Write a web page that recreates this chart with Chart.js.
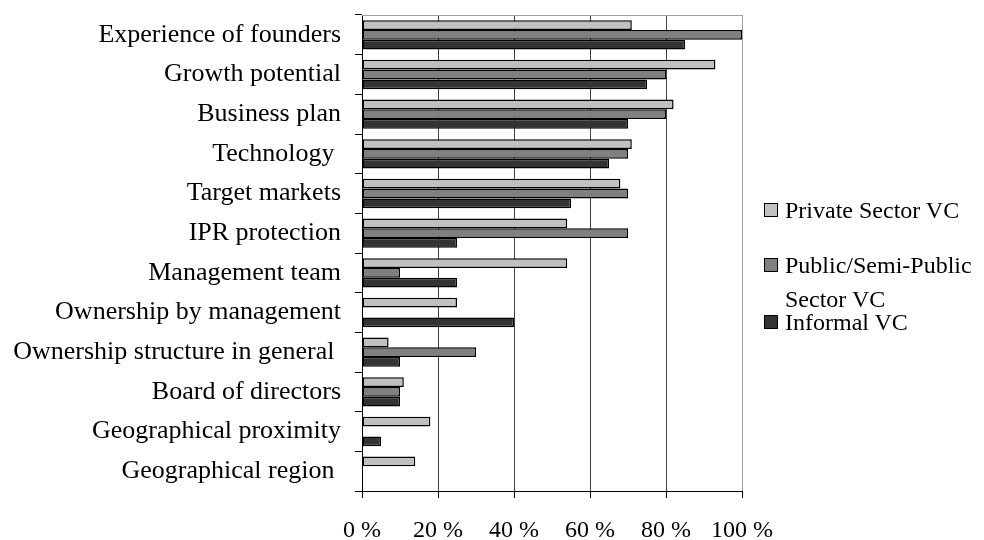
<!DOCTYPE html>
<html>
<head>
<meta charset="utf-8">
<script src="https://cdn.jsdelivr.net/npm/chart.js@4/dist/chart.umd.min.js"></script>
<style>
  html, body { margin: 0; padding: 0; background: #fff; }
  #wrap { position: relative; width: 984px; height: 540px; }
  #legend { position: absolute; left: 0; top: 0; font-family: "Liberation Serif", "Times New Roman", serif; font-size: 24px; color: #000; }
  .lg-box { position: absolute; width: 12px; height: 12px; border: 1px solid #000; }
  .lg-text { position: absolute; width: 195px; line-height: 34px; white-space: normal; }
</style>
</head>
<body>
<div id="wrap">
  <canvas id="chart" width="984" height="540"></canvas>
  <div id="legend"></div>
</div>
<script>
const categories = [
    'Experience of founders',
    'Growth potential',
    'Business plan',
    'Technology ',
    'Target markets',
    'IPR protection',
    'Management team',
    'Ownership by management',
    'Ownership structure in general ',
    'Board of directors',
    'Geographical proximity',
    'Geographical region '
];
const privateVC = [71, 93, 82, 71, 68, 54, 54, 25, 7, 11, 18, 14];
const publicVC = [100, 80, 80, 70, 70, 70, 10, 0, 30, 10, 0, 0];
const informalVC = [85, 75, 70, 65, 55, 25, 25, 40, 10, 10, 5, 0];
const xTicks = [0, 20, 40, 60, 80, 100];

const serif = '"Liberation Serif", "Times New Roman", serif';

// rama wykresu: gorna i prawa krawedz w kolorze szarym
const framePlugin = {
    id: 'frame',
    beforeDatasetsDraw(chart) {
        const a = chart.chartArea;
        const c = chart.ctx;
        c.save();
        c.strokeStyle = '#a0a0a0';
        c.lineWidth = 1;
        c.beginPath();
        c.moveTo(a.left, Math.round(a.top) + 0.5);
        c.lineTo(Math.round(a.right) + 0.5, Math.round(a.top) + 0.5);
        c.lineTo(Math.round(a.right) + 0.5, a.bottom);
        c.stroke();
        c.restore();
    }
};

const data = {
    labels: categories,
    datasets: [
        { label: 'Private Sector VC', data: privateVC, backgroundColor: '#c0c0c0' },
        { label: 'Public/Semi-Public Sector VC', data: publicVC, backgroundColor: '#808080' },
        { label: 'Informal VC', data: informalVC, backgroundColor: '#333333' }
    ].map(d => Object.assign(d, {
        borderColor: '#000',
        borderWidth: 1.5,
        borderSkipped: false,
        categoryPercentage: 0.74,
        barPercentage: 1.0
    }))
};

const config = {
    type: 'bar',
    data: data,
    plugins: [framePlugin],
    options: {
        indexAxis: 'y',
        responsive: false,
        animation: false,
        layout: { padding: { top: 15, right: 242, left: 0, bottom: 0 } },
        plugins: {
            legend: { display: false },
            tooltip: { enabled: false }
        },
        scales: {
            x: {
                min: 0,
                max: 100,
                afterBuildTicks: (s) => { s.ticks = xTicks.map(v => ({ value: v })); },
                afterFit: (s) => { s.height = 49; s.paddingLeft = 0; s.paddingRight = 0; },
                ticks: {
                    color: '#000',
                    font: { family: serif, size: 24 },
                    padding: 18,
                    maxRotation: 0,
                    callback: (v) => v + ' %'
                },
                grid: {
                    color: (ctx) => (ctx.tick && ctx.tick.value === 100) ? '#a0a0a0' : '#404040',
                    lineWidth: 1,
                    tickColor: '#000',
                    tickLength: 7
                },
                border: { display: true, color: '#000', width: 1 }
            },
            y: {
                afterFit: (s) => { s.width = 362; s.paddingTop = 0; s.paddingBottom = 0; },
                ticks: {
                    color: '#000',
                    font: { family: serif, size: 26 },
                    padding: 14,
                    autoSkip: false
                },
                grid: {
                    offset: true,
                    drawOnChartArea: false,
                    tickColor: '#000',
                    tickLength: 7
                },
                border: { display: true, color: '#000', width: 1 }
            }
        }
    }
};

const chart = new Chart(document.getElementById('chart'), config);

// legenda w HTML, bo jedna etykieta jest zawijana
const legendTops = [193, 248, 305];
const legend = document.getElementById('legend');
chart.data.datasets.forEach((ds, i) => {
    const box = document.createElement('div');
    box.className = 'lg-box';
    box.style.left = '764px';
    box.style.top = (legendTops[i] + 10) + 'px';
    box.style.background = ds.backgroundColor;
    legend.appendChild(box);

    const txt = document.createElement('div');
    txt.className = 'lg-text';
    txt.style.left = '785px';
    txt.style.top = legendTops[i] + 'px';
    txt.textContent = ds.label;
    legend.appendChild(txt);
});
</script>
</body>
</html>
